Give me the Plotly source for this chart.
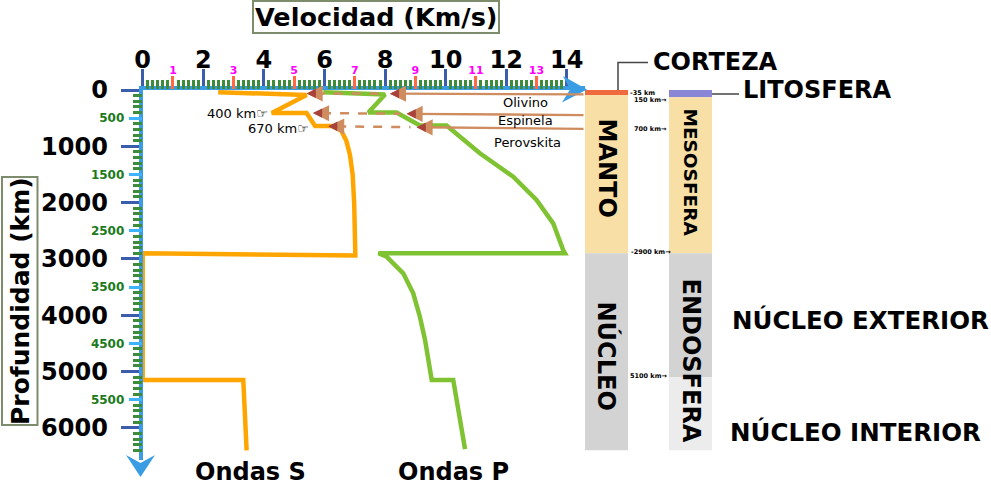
import plotly.graph_objects as go

W, H = 991, 487
FONT = "DejaVu Sans"

# ---------------- data ----------------
# S waves (velocity km/s, depth km)
s_velocity = [2.49, 5.41, 4.26, 5.41, 5.69, 6.24, 6.55, 6.72, 6.84, 6.93, 6.98, 7.00, 7.02, 0.0, 0.0, 3.32, 3.43]
s_depth = [40, 89, 410, 410, 640, 640, 720, 900, 1150, 1500, 2000, 2500, 2940, 2900, 5150, 5150, 6400]
# P waves
p_velocity = [5.96, 8.00, 7.45, 8.38, 9.15, 10.03, 11.13, 12.23, 13.00, 13.55, 13.88, 13.94,
              7.78, 8.05, 8.60, 8.93, 9.15, 9.32, 9.54, 10.25, 10.64]
p_depth = [40, 80, 400, 400, 630, 630, 1124, 1540, 1954, 2368, 2842, 2900,
           2900, 2960, 3256, 3611, 4027, 4440, 5150, 5150, 6380]

# axis ticks
x_major = [0, 2, 4, 6, 8, 10, 12, 14]
x_odd = [1, 3, 5, 7, 9, 11, 13]
x_minor = [i / 6 for i in range(1, 84) if i % 6 != 0]
y_major = [0, 1000, 2000, 3000, 4000, 5000, 6000]
y_half = [500, 1500, 2500, 3500, 4500, 5500]
y_minor = [d for d in range(100, 6500, 100) if d % 500 != 0]

# phase transitions (arrows)
trans_names = ["Olivino", "Espinela", "Perovskita"]
trans_depth_left = [60, 410, 645]
trans_depth_right = [78, 445, 690]
trans_v_p = [8.16, 8.71, 9.04]
trans_v_s = [5.41, 5.62, 6.12]

# layer columns (depth km)
col1_layers = [(0, 90, "#ef6a3c"), (90, 2900, "#f8dfa5"), (2900, 6400, "#d3d3d3")]
col2_layers = [(0, 130, "#8a86d6"), (130, 2900, "#f8dfa5"), (2900, 5100, "#d3d3d3"), (5100, 6400, "#ececec")]

# ---------------- geometry ----------------
X_RANGE = [0, 14.6]
Y_RANGE = [6572, 0]
XDOM = [142.7 / W, 585 / W]
YDOM = [1 - 460 / H, 1 - 90 / H]


def px(x):
    return x / W


def py(y):
    return 1 - y / H


BLUE = "#3a9de3"
DBLUE = "#3b5dab"
GREENT = "#3d8b3d"
BROWN = "#cf8c5f"
ORANGE = "#ffa500"
PGREEN = "#7fc232"

fig = go.Figure()
fig.add_trace(go.Scatter(x=s_velocity, y=s_depth, mode="lines", line=dict(color=ORANGE, width=4.5),
                         showlegend=False, hoverinfo="skip"))
fig.add_trace(go.Scatter(x=p_velocity, y=p_depth, mode="lines", line=dict(color=PGREEN, width=4.5),
                         showlegend=False, hoverinfo="skip"))
for xa, ya in [("x2", "y"), ("x3", "y"), ("x", "y2"), ("x", "y3")]:
    fig.add_trace(go.Scatter(x=[1], y=[1], xaxis=xa, yaxis=ya, mode="markers",
                             marker=dict(opacity=0), showlegend=False, hoverinfo="skip"))

common_x = dict(range=X_RANGE, side="top", anchor="y", showgrid=False, zeroline=False, ticks="outside",
                tickmode="array", fixedrange=True, automargin=False)
common_y = dict(range=Y_RANGE, side="left", anchor="x", showgrid=False, zeroline=False, ticks="outside",
                tickmode="array", fixedrange=True, automargin=False)

fig.update_layout(
    width=W, height=H, margin=dict(l=0, r=0, t=0, b=0, pad=0, autoexpand=False), autosize=False,
    showlegend=False,
    paper_bgcolor="white", plot_bgcolor="white",
    xaxis=dict(**common_x, domain=XDOM, tickvals=x_major, ticktext=[str(v) for v in x_major],
               ticklen=17, tickwidth=3, tickcolor=DBLUE, showline=True, linecolor=BLUE, linewidth=4,
               tickfont=dict(family=FONT, size=24, color="black", weight="bold"), ticklabelstandoff=-9),
    xaxis2=dict(**common_x, overlaying="x", tickvals=x_odd, ticktext=[str(v) for v in x_odd],
                ticklen=13, tickwidth=3, tickcolor="#ff6a45", showline=False,
                tickfont=dict(family=FONT, size=11, color="#ff00ff", weight="bold"), ticklabelstandoff=-2),
    xaxis3=dict(**common_x, overlaying="x", tickvals=x_minor, ticklen=9, tickwidth=3, tickcolor=GREENT,
                showline=False, showticklabels=False),
    yaxis=dict(**common_y, domain=YDOM, tickvals=y_major, ticktext=[str(v) for v in y_major],
               ticklen=18, tickwidth=3, tickcolor=DBLUE, showline=True, linecolor=BLUE, linewidth=4,
               tickfont=dict(family=FONT, size=24, color="black", weight="bold"), ticklabelstandoff=8),
    yaxis2=dict(**common_y, overlaying="y", tickvals=y_half, ticktext=[str(v) for v in y_half],
                ticklen=13, tickwidth=3, tickcolor="#3fb3ff", showline=False,
                tickfont=dict(family=FONT, size=12, color="#1b7a1b", weight="bold"), ticklabelstandoff=2),
    yaxis3=dict(**common_y, overlaying="y", tickvals=y_minor, ticklen=9, tickwidth=3, tickcolor=GREENT,
                showline=False, showticklabels=False),
)

shapes = []
# layer columns
for d0, d1, c in col1_layers:
    shapes.append(dict(type="rect", xref="paper", yref="y", x0=px(585), x1=px(628), y0=d0, y1=d1,
                       fillcolor=c, line=dict(width=0), layer="below"))
for d0, d1, c in col2_layers:
    shapes.append(dict(type="rect", xref="paper", yref="y", x0=px(669), x1=px(712), y0=d0, y1=d1,
                       fillcolor=c, line=dict(width=0), layer="below"))


def path(points, close=True):
    return "M " + " L ".join(f"{px(a):.5f},{py(b):.5f}" for a, b in points) + (" Z" if close else "")


# axis arrowheads
shapes.append(dict(type="path", xref="paper", yref="paper",
                   path=path([(587, 89.5), (563, 76), (570, 89.5), (562, 102.5)]),
                   fillcolor=BLUE, line=dict(width=0)))
shapes.append(dict(type="path", xref="paper", yref="paper",
                   path=path([(140.5, 477), (126, 455), (140.5, 463), (155, 455)]),
                   fillcolor=BLUE, line=dict(width=0)))

# title boxes
shapes.append(dict(type="rect", xref="paper", yref="paper", x0=px(253), x1=px(499), y0=py(1), y1=py(33),
                   line=dict(color="#7d8c6a", width=2)))
shapes.append(dict(type="rect", xref="paper", yref="paper", x0=px(2), x1=px(37.5), y0=py(177), y1=py(425),
                   line=dict(color="#7d8c6a", width=2)))

# leader lines
shapes.append(dict(type="path", xref="paper", yref="paper",
                   path=path([(618, 90), (618, 62.5), (648, 62.5)], close=False),
                   line=dict(color="#444444", width=1.5)))
shapes.append(dict(type="line", xref="paper", yref="paper", x0=px(712), x1=px(739), y0=py(94), y1=py(94),
                   line=dict(color="#444444", width=1.5)))

annotations = []


def depth_at(i, v):
    vs = trans_v_s[i]
    return trans_depth_left[i] + (trans_depth_right[i] - trans_depth_left[i]) * (v - vs) / (X_RANGE[1] - vs)


for i in range(3):
    vp, vs = trans_v_p[i], trans_v_s[i]
    # dashed segment
    shapes.append(dict(type="line", xref="x", yref="y", x0=vs + 0.3, y0=depth_at(i, vs + 0.3),
                       x1=vp - 0.2, y1=depth_at(i, vp - 0.2),
                       line=dict(color=BROWN, width=2.5, dash="dash"), layer="above"))
    # solid arrow to P curve
    annotations.append(dict(x=vp, y=depth_at(i, vp), xref="x", yref="y", ax=X_RANGE[1], ay=trans_depth_right[i],
                            axref="x", ayref="y", showarrow=True, arrowhead=2, arrowsize=1.4, arrowwidth=2.3,
                            arrowcolor=BROWN, text=""))
    annotations.append(dict(x=vp, y=depth_at(i, vp), xref="x", yref="y", ax=vp + 0.35, ay=depth_at(i, vp + 0.35),
                            axref="x", ayref="y", showarrow=True, arrowhead=2, arrowsize=0.8, arrowwidth=2.3,
                            arrowcolor="#a8423a", text=""))
    # heads at S curve
    for col, sz in [(BROWN, 1.4), ("#a8423a", 0.8)]:
        annotations.append(dict(x=vs, y=depth_at(i, vs), xref="x", yref="y", ax=vs + 0.35,
                                ay=depth_at(i, vs + 0.35), axref="x", ayref="y", showarrow=True, arrowhead=2,
                                arrowsize=sz, arrowwidth=2.3, arrowcolor=col, text=""))


def ann(text, x, y, size, bold=True, color="black", angle=0, xanchor="center"):
    annotations.append(dict(text=text, x=px(x), y=py(y), xref="paper", yref="paper", showarrow=False,
                            xanchor=xanchor, yanchor="middle", textangle=angle,
                            font=dict(family=FONT, size=size, color=color, weight="bold" if bold else "normal")))


ann("Velocidad (Km/s)", 376, 17, 25.5)
ann("Profundidad (km)", 20, 301, 25, angle=-90)
ann("Ondas S", 250, 472, 24)
ann("Ondas P", 453.5, 472, 24)
ann("CORTEZA", 715, 62, 24)
ann("LITOSFERA", 817, 90, 24)
ann("NÚCLEO EXTERIOR", 860, 320, 24.5)
ann("NÚCLEO INTERIOR", 855, 432, 24.5)
ann("MANTO", 606.5, 168, 24, angle=90)
ann("NÚCLEO", 606.5, 356, 24, angle=90)
ann("MESOSFERA", 690.5, 172, 18.5, angle=90)
ann("ENDOSFERA", 690.5, 360, 24, angle=90)
for name, yy, xx in zip(trans_names, [103, 121, 143], [525, 525, 527]):
    ann(name, xx, yy, 13, bold=False)
ann("400 km☞", 270, 113, 13, bold=False, xanchor="right")
ann("670 km☞", 311, 128, 13, bold=False, xanchor="right")
ann("-35 km", 628, 93, 6.5, xanchor="left")
ann("150 km→", 669, 100, 6.5, xanchor="right")
ann("700 km→", 669, 128.5, 6.5, xanchor="right")
ann("-2900 km→", 629, 252, 6.5, xanchor="left")
ann("5100 km→", 669, 375.5, 6.5, xanchor="right")

fig.update_layout(shapes=shapes, annotations=annotations)
fig.write_html("out.html", config={"displayModeBar": False},
               post_script="document.body.style.margin='0px'; document.body.style.overflow='hidden';")
